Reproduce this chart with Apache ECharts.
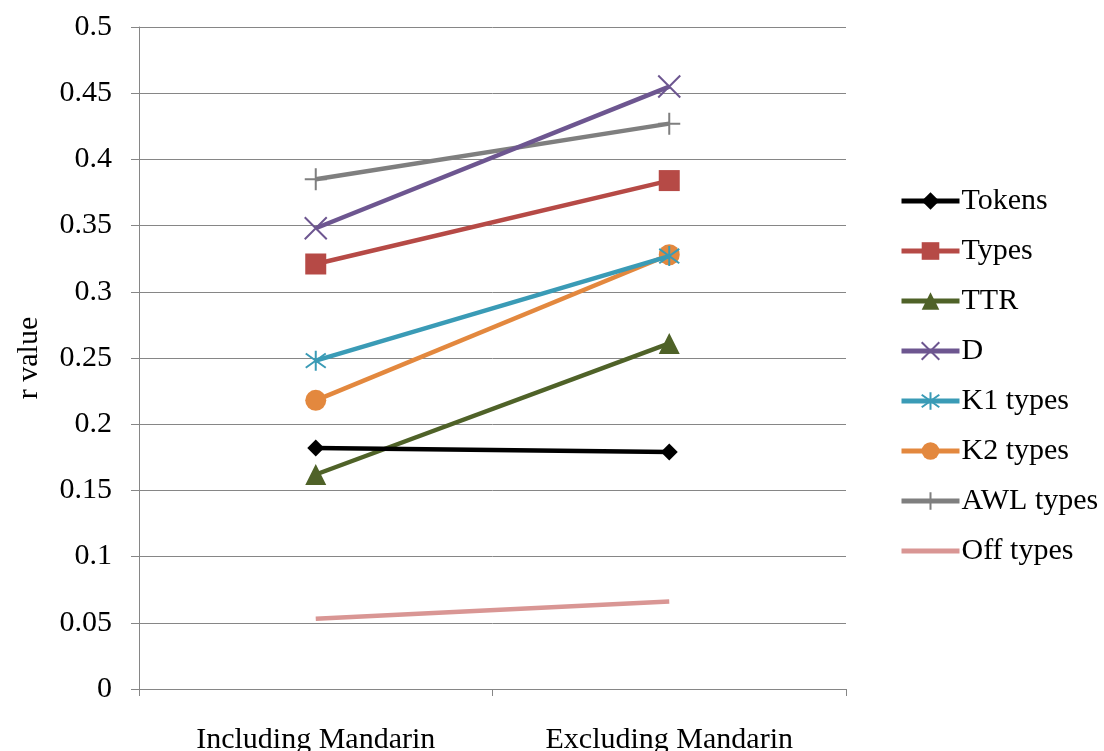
<!DOCTYPE html>
<html>
<head>
<meta charset="utf-8">
<script src="https://cdn.jsdelivr.net/npm/echarts@6/dist/echarts.min.js"></script>
<style>html,body{margin:0;padding:0;background:#fff;}#c{width:1104px;height:751px;}</style>
</head>
<body>
<div id="c"></div>
<script>
const categories = ['Including Mandarin', 'Excluding Mandarin'];
const seriesNames = ['Tokens', 'Types', 'TTR', 'D', 'K1 types', 'K2 types', 'AWL types', 'Off types'];
const tokens = [0.182, 0.179];
const types = [0.321, 0.384];
const ttr = [0.162, 0.261];
const dVals = [0.348, 0.455];
const k1Types = [0.248, 0.327];
const k2Types = [0.218, 0.328];
const awlTypes = [0.385, 0.427];
const offTypes = [0.053, 0.066];
const yTicks = { min: 0, max: 0.5, interval: 0.05 };

const values = [tokens, types, ttr, dVals, k1Types, k2Types, awlTypes, offTypes];
const colors = ['#000000', '#B64A46', '#4F6228', '#6D5690', '#3A9BB6', '#E3883E', '#7F7F7F', '#D99694'];
const symbols = ['diamond', 'rect', 'triangle',
  'path://M0,0L10,10M10,0L0,10',
  'path://M0,0L10,10M10,0L0,10M5,-2L5,12',
  'circle',
  'path://M5,0L5,10M0,5L10,5',
  'none'];
const sizes = [17, 21, 21, 22, 20, 21, 22, 0];
const stroked = [false, false, false, true, true, false, true, false];
const font = 'Liberation Serif';
const fs = 30;

const series = seriesNames.map((n, i) => ({
  name: n,
  type: 'line',
  data: values[i],
  symbol: symbols[i],
  symbolSize: sizes[i],
  showSymbol: symbols[i] !== 'none',
  lineStyle: { color: colors[i], width: 4.5 },
  itemStyle: stroked[i]
    ? { color: 'rgba(0,0,0,0)', borderColor: colors[i], borderWidth: 2 }
    : { color: colors[i], borderWidth: 0 },
  emphasis: { disabled: true },
  z: 10 - i
}));

const chart = echarts.init(document.getElementById('c'));
chart.setOption({
  animation: false,
  backgroundColor: '#fff',
  grid: { left: 139, right: 258, top: 27, bottom: 62, containLabel: false, outerBoundsMode: 'none' },
  legend: {
    orient: 'vertical',
    left: 899,
    top: 186,
    padding: 0,
    itemWidth: 58,
    itemHeight: 22,
    itemGap: 20,
    textStyle: { fontFamily: font, fontSize: fs, color: '#000', padding: [0, 0, 0, -3] },
    data: seriesNames.map((n, i) => ({
      name: n,
      lineStyle: { color: colors[i], width: 5 },
      itemStyle: symbols[i] === 'none'
        ? { color: 'rgba(0,0,0,0)', borderWidth: 0 }
        : (stroked[i]
          ? { color: 'rgba(0,0,0,0)', borderColor: colors[i], borderWidth: 2 }
          : { color: colors[i] })
    }))
  },
  xAxis: {
    type: 'category',
    data: categories,
    boundaryGap: true,
    axisLine: { lineStyle: { color: '#868686', width: 1 } },
    axisTick: { show: true, length: 7, alignWithLabel: false, lineStyle: { color: '#868686' } },
    axisLabel: { fontFamily: font, fontSize: fs, color: '#000', margin: 36 },
    splitLine: { show: false }
  },
  yAxis: {
    type: 'value',
    min: yTicks.min,
    max: yTicks.max,
    interval: yTicks.interval,
    name: 'r value',
    nameLocation: 'middle',
    nameGap: 95,
    nameRotate: 90,
    nameTextStyle: { fontFamily: font, fontSize: fs, color: '#000' },
    axisLine: { show: true, lineStyle: { color: '#868686', width: 1 } },
    axisTick: { show: true, length: 8, lineStyle: { color: '#868686' } },
    axisLabel: { fontFamily: font, fontSize: fs, color: '#000', margin: 27,
      formatter: v => String(parseFloat(v.toFixed(2))) },
    splitLine: { show: true, lineStyle: { color: '#868686', width: 1 } }
  },
  series: series
});
</script>
</body>
</html>
